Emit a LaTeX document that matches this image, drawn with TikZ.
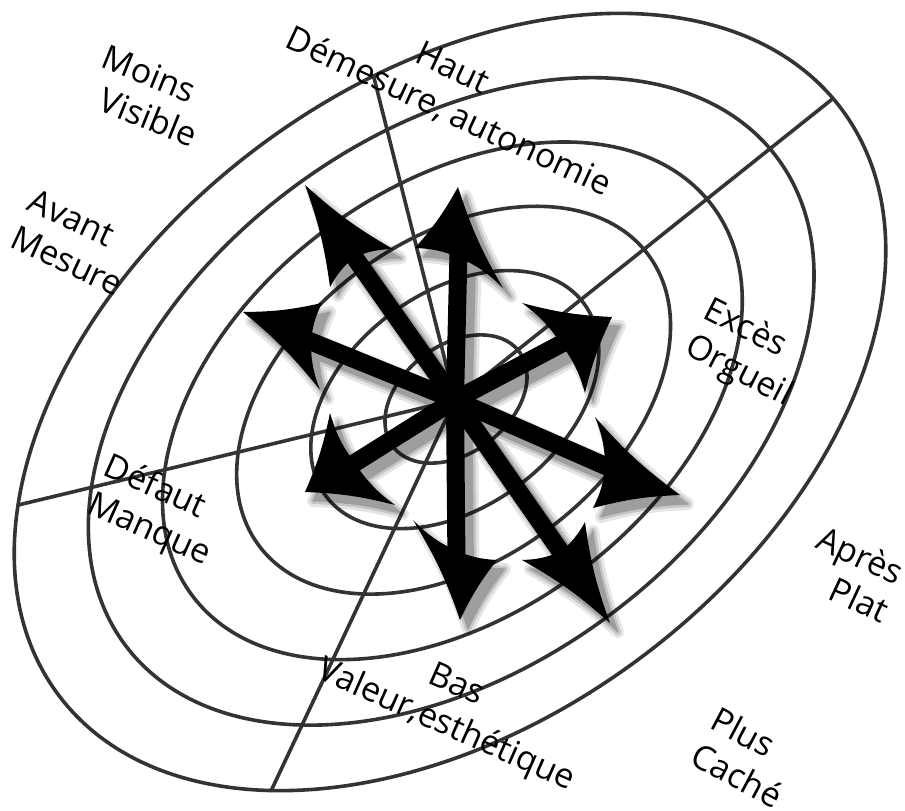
\documentclass[tikz,border=0pt]{standalone}
\usepackage{fontspec}
\setmainfont{Open Sans}
\usepackage{tikz}
\usetikzlibrary{calc}

\begin{document}
\begin{tikzpicture}[
  x=1pt, y=1pt,
  ring/.style={draw=black!80, line width=3.6pt},
  lbl/.style={font=\fontsize{34}{41}\selectfont, inner sep=0pt},
  shaft/.style={line width=18pt},
]
  \useasboundingbox (-455,-411) rectangle (450,400);
  \coordinate (hub) at (0,0);

  % nested rings
  \foreach \k in {0,...,5}
    \draw[ring] ({-5+1.2*\k},{-2+0.6*\k}) ellipse [x radius={489pt-82pt*\k}, y radius={319pt-53pt*\k}, rotate=36.8];

  % spokes, cut at the outer ring
  \coordinate (spoke-n) at (-88,350);
  \coordinate (spoke-ne) at (420,335);
  \coordinate (spoke-w) at (-470,-113);
  \coordinate (spoke-s) at (-200,-425);
  \begin{scope}
    \clip (-5,-2) ellipse [x radius=489pt, y radius=319pt, rotate=36.8];
    \draw[ring] (hub) -- (spoke-n) (hub) -- (spoke-ne) (hub) -- (spoke-w) (hub) -- (spoke-s);
  \end{scope}

  % arrow tips and barbs
  \coordinate (tip-n) at (3,213);     \coordinate (tip-n-r) at (48,112);    \coordinate (tip-n-l) at (-40,152);
  \coordinate (tip-nw) at (-150,215); \coordinate (tip-nw-r) at (-62,151);  \coordinate (tip-nw-l) at (-125,113);
  \coordinate (tip-w) at (-212,88);   \coordinate (tip-w-r) at (-133,97);   \coordinate (tip-w-l) at (-135,10);
  \coordinate (tip-sw) at (-150,-92); \coordinate (tip-sw-r) at (-125,-13); \coordinate (tip-sw-l) at (-60,-105);
  \coordinate (tip-s) at (5,-220);    \coordinate (tip-s-r) at (-42,-120);  \coordinate (tip-s-l) at (42,-160);
  \coordinate (tip-se) at (155,-223); \coordinate (tip-se-r) at (67,-160);  \coordinate (tip-se-l) at (130,-122);
  \coordinate (tip-e) at (225,-95);   \coordinate (tip-e-r) at (138,-108);  \coordinate (tip-e-l) at (140,-17);
  \coordinate (tip-ne) at (157,83);   \coordinate (tip-ne-r) at (130,7);    \coordinate (tip-ne-l) at (67,97);

  % soft shadow under the star
  \foreach \w/\o in {12/0.10, 6/0.14, 1/0.20} {
    \begin{scope}[transform canvas={shift={(8pt,-9pt)}}, transparency group, opacity=\o]
      \foreach \t in {n,nw,w,sw,s,se,e,ne} {
        \draw[line width=18pt+\w pt] (hub) -- ($(tip-\t-r)!0.5!(tip-\t-l)!0.3!(tip-\t)$);
        \filldraw[line width=\w pt, line join=round] (tip-\t) to[bend right=6] (tip-\t-r) to[bend right=10] ($(tip-\t-r)!0.5!(tip-\t-l)!0.13!(tip-\t)$)
          to[bend right=10] (tip-\t-l) to[bend right=6] (tip-\t) -- cycle;
      }
    \end{scope}
  }
  % the star
  \foreach \t in {n,nw,w,sw,s,se,e,ne} {
    \draw[shaft] (hub) -- ($(tip-\t-r)!0.5!(tip-\t-l)!0.3!(tip-\t)$);
    \fill (tip-\t) to[bend right=6] (tip-\t-r) to[bend right=10] ($(tip-\t-r)!0.5!(tip-\t-l)!0.13!(tip-\t)$)
      to[bend right=10] (tip-\t-l) to[bend right=6] (tip-\t) -- cycle;
  }

  % labels
  \node[lbl, rotate=-22, align=left] (moins) at (-305,304) {Moins\\\hspace*{13pt}Visible};
  \node[lbl, rotate=-25, align=left] (avant) at (-379,158) {Avant\\Mesure};
  \node[lbl, rotate=-25, align=center] (haut) at (2,306) {Haut\hspace*{30pt}\\Démesure, autonomie};
  \node[lbl, rotate=-27, align=left] (exces) at (293,46) {Excès\\Orgueil};
  \node[lbl, rotate=-24, align=left] (defaut) at (-298,-112) {Défaut\\Manque};
  \node[lbl, rotate=-25, align=left] (apres) at (398,-174) {Après\\\hspace*{33pt}Plat};
  \node[lbl, rotate=-28, align=left] (plus) at (292,-357) {Plus\\Caché};
  \node[lbl, rotate=-24, align=center] (bas) at (-1,-308) {Bas\hspace*{14pt}\\Valeur,esthétique};
\end{tikzpicture}
\end{document}
